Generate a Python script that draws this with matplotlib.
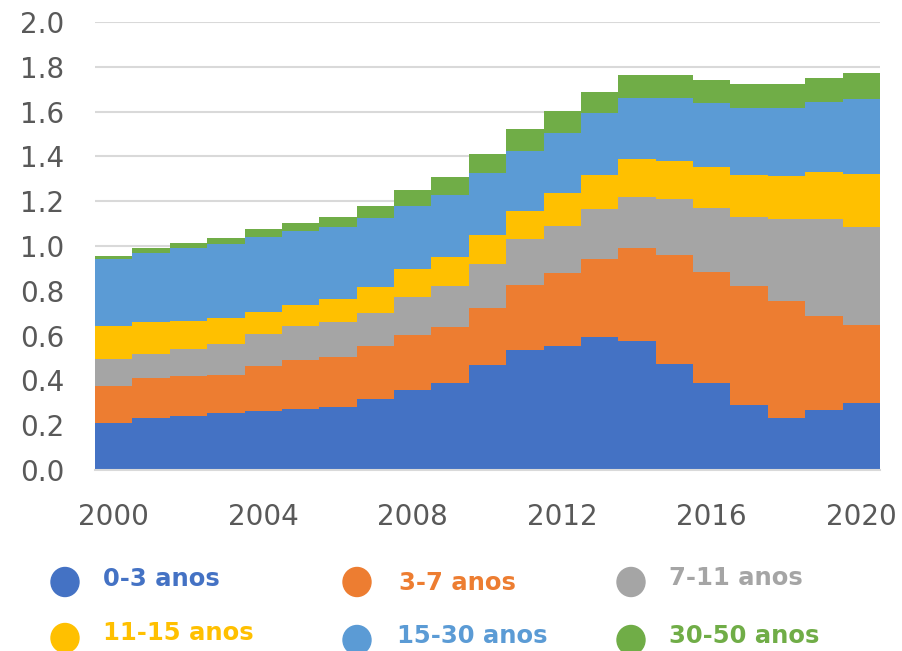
import numpy as np
import matplotlib
matplotlib.use("Agg")
import matplotlib.pyplot as plt
from matplotlib.patches import Ellipse

# years and layer values (bottom to top)
years = np.arange(2000, 2021)
labels = ["0-3 anos", "3-7 anos", "7-11 anos", "11-15 anos", "15-30 anos", "30-50 anos"]
colors = ["#4472C4", "#ED7D31", "#A5A5A5", "#FFC000", "#5B9BD5", "#70AD47"]

v_0_3 = [0.208, 0.231, 0.243, 0.254, 0.265, 0.271, 0.283, 0.317, 0.357, 0.387, 0.467,
         0.534, 0.552, 0.592, 0.576, 0.473, 0.387, 0.289, 0.232, 0.266, 0.301]
v_3_7 = [0.167, 0.178, 0.177, 0.172, 0.201, 0.219, 0.221, 0.235, 0.246, 0.251, 0.256,
         0.292, 0.326, 0.348, 0.417, 0.485, 0.497, 0.532, 0.521, 0.423, 0.348]
v_7_11 = [0.119, 0.109, 0.120, 0.138, 0.143, 0.153, 0.157, 0.149, 0.171, 0.183, 0.195,
          0.205, 0.213, 0.224, 0.227, 0.252, 0.287, 0.308, 0.366, 0.430, 0.436]
v_11_15 = [0.149, 0.141, 0.125, 0.113, 0.098, 0.092, 0.102, 0.114, 0.122, 0.131, 0.131,
           0.127, 0.147, 0.153, 0.168, 0.171, 0.182, 0.188, 0.193, 0.210, 0.238]
v_15_30 = [0.297, 0.308, 0.328, 0.333, 0.332, 0.332, 0.320, 0.308, 0.284, 0.276, 0.275,
           0.268, 0.265, 0.275, 0.274, 0.281, 0.284, 0.299, 0.304, 0.315, 0.332]
v_30_50 = [0.015, 0.026, 0.022, 0.027, 0.035, 0.037, 0.045, 0.057, 0.068, 0.078, 0.085,
           0.098, 0.100, 0.097, 0.101, 0.101, 0.104, 0.109, 0.109, 0.107, 0.116]
series = [v_0_3, v_3_7, v_7_11, v_11_15, v_15_30, v_30_50]

fig = plt.figure(figsize=(9.03, 6.51), dpi=100)
ax = fig.add_axes([95 / 903, 1 - 470 / 651, 785 / 903, 448 / 651])

# step edges: each year fills [year-0.5, year+0.5]
edges = np.append(years - 0.5, years[-1] + 0.5)
base = np.zeros(len(edges))
for vals, c in zip(series, colors):
    v = np.append(vals, vals[-1])
    ax.fill_between(edges, base, base + v, step="post", color=c, linewidth=0, zorder=2)
    base = base + v

ax.set_xlim(1999.5, 2020.5)
ax.set_ylim(0, 2.0)
ax.set_yticks(np.arange(0, 2.01, 0.2))
ax.set_yticklabels([f"{t:.1f}" for t in np.arange(0, 2.01, 0.2)])
ax.set_xticks([2000, 2004, 2008, 2012, 2016, 2020])
ax.grid(axis="y", color="#D9D9D9", linewidth=1.5, zorder=0)
ax.set_axisbelow(True)
for s in ["top", "right", "left"]:
    ax.spines[s].set_visible(False)
ax.spines["bottom"].set_color("#D9D9D9")
ax.spines["bottom"].set_linewidth(1.5)
ax.tick_params(axis="both", length=0, labelsize=20, colors="#595959")
ax.tick_params(axis="y", pad=22)
ax.tick_params(axis="x", pad=24)

# legend drawn in pixel coordinates on an overlay
lg = fig.add_axes([0, 0, 1, 1])
lg.set_xlim(0, 903)
lg.set_ylim(651, 0)
lg.axis("off")
pos = [(65, 582, 103, 579), (357, 582, 399, 583), (631, 582, 669, 578),
       (65, 638, 103, 633), (357, 640, 397, 636), (631, 640, 669, 636)]
for (cx, cy, tx, ty), lab, c in zip(pos, labels, colors):
    lg.add_patch(Ellipse((cx, cy), 28, 29, color=c))
    lg.text(tx, ty, lab, color=c, fontsize=17.5, fontweight="bold",
            ha="left", va="center")

fig.savefig("out.png", dpi=100)
